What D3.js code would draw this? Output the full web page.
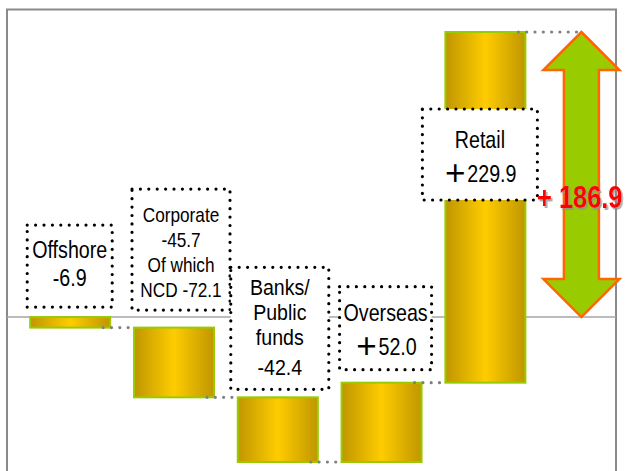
<!DOCTYPE html>
<html>
<head>
<meta charset="utf-8">
<script src="https://cdn.jsdelivr.net/npm/d3@7"></script>
<style>
  html, body { margin: 0; padding: 0; background: #fff; }
  svg { display: block; }
</style>
</head>
<body>
<svg id="chart" width="625" height="471"></svg>
<script>
// Deposit flow by segment (waterfall): change per segment and the net total
const categories = ["Offshore", "Corporate", "Banks", "Overseas", "Retail"];
const changes = [-6.9, -45.7, -42.4, 52.0, 229.9];
const calloutTitles = [
  ["Offshore"],
  ["Corporate"],
  ["Banks/", "Public", "funds"],
  ["Overseas"],
  ["Retail"]
];
// extra note under the corporate value
const calloutNotes = [[], ["Of which", "NCD -72.1"], [], [], []];

// ---- layout constants ----
const W = 625, H = 471;
const FONT = "'Liberation Sans', Arial, sans-serif";
const CJK = "'Noto Sans CJK JP', 'Noto Sans CJK SC', sans-serif";
const SQUEEZE = 0.82; // condensed look for the labels
// callout box geometry: width, height, x offset from bar centre, anchor level, gap above anchor,
// baselines of the text lines measured from the box top, font size, horizontal squeeze
const calloutLayout = [
  { w: 85, h: 82, dx: -0.5, anchor: "zero", gap: 10, lines: [33, 61], fs: 24, sq: 0.82 },
  { w: 98, h: 121, dx: 7, anchor: "zero", gap: 7, lines: [33, 58, 83, 108], fs: 21, sq: 0.82 },
  { w: 98, h: 122, dx: 2, anchor: "start", gap: 8, lines: [28, 53, 78, 108], fs: 22, sq: 0.89 },
  { w: 92, h: 83, dx: 4, anchor: "end", gap: 13, lines: [34, 68], fs: 24, sq: 0.82 },
  { w: 115, h: 91, dx: -5.5, anchor: "end", gap: -168, lines: [39, 73], fs: 24, sq: 0.82 }
];

// ---- derived series ----
let run = 0;
const steps = categories.map((c, i) => {
  const start = run;
  run += changes[i];
  return { cat: c, value: changes[i], start, end: run };
});
const netChange = Math.round(run * 10) / 10;

const locale = d3.formatLocale({ decimal: ".", thousands: ",", grouping: [3], currency: ["", ""], minus: "-" });
const fmt = locale.format(".1f");
const valueText = v => (v > 0 ? "+" : "") + fmt(v);

// ---- scales ----
const x = d3.scaleBand()
  .domain(categories)
  .range([30.2, 525.4])
  .paddingInner(0.229)
  .paddingOuter(0);

const levels = steps.flatMap(s => [s.start, s.end]);
const y = d3.scaleLinear()
  .domain([d3.min(levels), d3.max(levels)])
  .range([462, 32]);

const svg = d3.select("#chart");
const defs = svg.append("defs");

const grad = defs.append("linearGradient")
  .attr("id", "gold").attr("x1", "0%").attr("x2", "100%").attr("y1", "0%").attr("y2", "0%");
grad.append("stop").attr("offset", "0%").attr("stop-color", "#BF9600");
grad.append("stop").attr("offset", "50%").attr("stop-color", "#FFCC00");
grad.append("stop").attr("offset", "100%").attr("stop-color", "#BF9600");

const shadow = defs.append("filter").attr("id", "soft-shadow")
  .attr("x", "-10%").attr("y", "-20%").attr("width", "130%").attr("height", "150%");
shadow.append("feDropShadow")
  .attr("dx", 2).attr("dy", 2).attr("stdDeviation", 0.6)
  .attr("flood-color", "#909090").attr("flood-opacity", 0.75);

// ---- plot frame and zero line ----
svg.append("path")
  .attr("d", `M7,${H} V9.5 H616 V${H}`)
  .attr("fill", "none").attr("stroke", "#8a8a8a").attr("stroke-width", 2);

svg.append("line")
  .attr("x1", 7).attr("x2", 616)
  .attr("y1", y(0)).attr("y2", y(0))
  .attr("stroke", "#a6a6a6").attr("stroke-width", 1.5);

// ---- floating bars ----
svg.append("g").selectAll("rect")
  .data(steps)
  .join("rect")
  .attr("x", d => x(d.cat))
  .attr("width", x.bandwidth())
  .attr("y", d => y(Math.max(d.start, d.end)))
  .attr("height", d => Math.abs(y(d.start) - y(d.end)))
  .attr("fill", "url(#gold)")
  .attr("stroke", "#99CC00")
  .attr("stroke-width", 2);

// ---- dotted connectors between consecutive bars ----
const arrowX = x(categories[categories.length - 1]) + x.bandwidth() + 56;
const connectors = steps.map((s, i) => {
  const x1 = x(s.cat) + x.bandwidth() - 7;
  const x2 = i < steps.length - 1 ? x(steps[i + 1].cat) : arrowX - 2;
  return { x1, x2, level: s.end };
});
svg.append("g").selectAll("line")
  .data(connectors)
  .join("line")
  .attr("x1", d => d.x1).attr("x2", d => d.x2)
  .attr("y1", d => y(d.level)).attr("y2", d => y(d.level))
  .attr("stroke", "#808080")
  .attr("stroke-width", 3.2)
  .attr("stroke-linecap", "round")
  .attr("stroke-dasharray", "0 8.3");

// ---- net change double arrow ----
{
  const top = y(netChange), bot = y(0);
  const hw = 38, sw = 17.5, hh = 38, cx = arrowX;
  const pts = [
    [cx, top], [cx + hw, top + hh], [cx + sw, top + hh], [cx + sw, bot - hh], [cx + hw, bot - hh],
    [cx, bot], [cx - hw, bot - hh], [cx - sw, bot - hh], [cx - sw, top + hh], [cx - hw, top + hh]
  ];
  svg.append("path")
    .attr("d", d3.line()(pts) + "Z")
    .attr("fill", "#99CC00")
    .attr("stroke", "#FF6600")
    .attr("stroke-width", 2.5)
    .attr("stroke-linejoin", "miter");
}

// ---- callout boxes ----
const callouts = svg.append("g");
steps.forEach((s, i) => {
  const L = calloutLayout[i];
  const cx = x(s.cat) + x.bandwidth() / 2 + L.dx;
  const anchorLevel = L.anchor === "zero" ? 0 : (L.anchor === "start" ? s.start : s.end);
  const bottom = y(anchorLevel) - L.gap;
  const topY = bottom - L.h;
  const g = callouts.append("g");
  g.append("rect")
    .attr("x", cx - L.w / 2).attr("y", topY)
    .attr("width", L.w).attr("height", L.h)
    .attr("fill", "#fff")
    .attr("stroke", "#000")
    .attr("stroke-width", 3.2)
    .attr("stroke-linecap", "round")
    .attr("stroke-dasharray", "0 8.4");

  const lines = [...calloutTitles[i], valueText(s.value), ...calloutNotes[i]];
  lines.forEach((ln, k) => {
    const by = topY + L.lines[k];
    if (ln.startsWith("+")) {
      // wide plus sign followed by the condensed number, centred together
      const num = g.append("text")
        .attr("font-family", FONT).attr("font-size", L.fs).attr("fill", "#000")
        .text(ln.slice(1));
      const plus = g.append("text")
        .attr("font-family", CJK).attr("font-weight", "bold")
        .attr("font-size", L.fs).attr("fill", "#000")
        .text("＋");
      const numW = num.node().getComputedTextLength() * L.sq;
      const plusW = plus.node().getComputedTextLength();
      const left = cx - (numW + plusW) / 2;
      plus.attr("transform", `translate(${left},${by})`);
      num.attr("transform", `translate(${left + plusW},${by}) scale(${L.sq},1)`);
    } else {
      g.append("text")
        .attr("transform", `translate(${cx},${by}) scale(${L.sq},1)`)
        .attr("text-anchor", "middle")
        .attr("font-family", FONT).attr("font-size", L.fs).attr("fill", "#000")
        .text(ln);
    }
  });
});

// ---- net change label ----
{
  const midY = (y(netChange) + y(0)) / 2 + 33;
  svg.append("text")
    .attr("transform", `translate(537,${midY}) scale(${SQUEEZE},1)`)
    .attr("font-family", FONT).attr("font-weight", "bold").attr("font-size", 31)
    .attr("fill", "#FF0000")
    .attr("filter", "url(#soft-shadow)")
    .text("+ " + fmt(netChange));
}
</script>
</body>
</html>
